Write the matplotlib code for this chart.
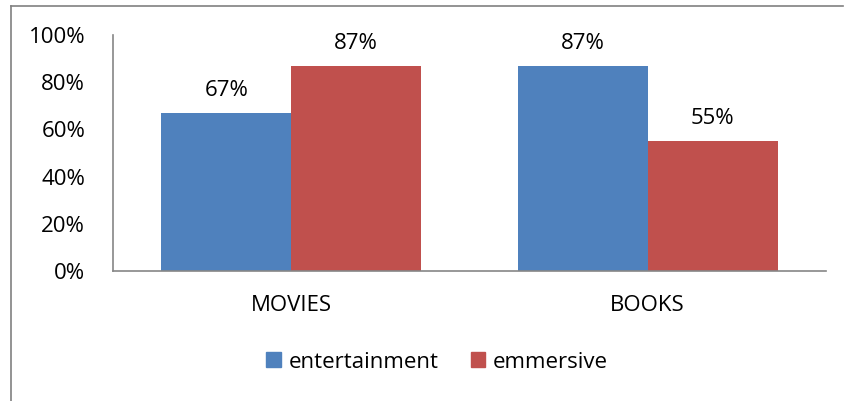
import matplotlib
matplotlib.use("Agg")
import matplotlib.pyplot as plt
import numpy as np
from matplotlib.lines import Line2D
from matplotlib.patches import Patch

categories = ["MOVIES", "BOOKS"]
series_names = ["entertainment", "emmersive"]
entertainment = [67, 87]
emmersive = [87, 55]
yticks = [0, 20, 40, 60, 80, 100]
ytick_labels = ["0%", "20%", "40%", "60%", "80%", "100%"]

colors = ["#4F81BD", "#C0504D"]
plt.rcParams['font.family'] = ['Open Sans', 'DejaVu Sans']
FS = 16

W, H = 845, 401
fig = plt.figure(figsize=(W / 100, H / 100), dpi=100)

# axes: x 113..826, y 35..271 (pixels from top)
ax = fig.add_axes([113 / W, 1 - 271 / H, (826 - 113) / W, (271 - 35) / H])
x = np.arange(len(categories))
bw = 0.365
ax.bar(x - bw / 2, entertainment, bw, color=colors[0], label=series_names[0])
ax.bar(x + bw / 2, emmersive, bw, color=colors[1], label=series_names[1])
for xi, v in zip(x - bw / 2, entertainment):
    ax.text(xi, v + 5, f"{v}%", ha="center", va="bottom", fontsize=FS)
for xi, v in zip(x + bw / 2, emmersive):
    ax.text(xi, v + 5, f"{v}%", ha="center", va="bottom", fontsize=FS)

ax.set_xlim(-0.5, len(categories) - 0.5)
ax.set_ylim(0, 100)
ax.set_yticks(yticks)
ax.set_yticklabels(ytick_labels, fontsize=FS)
ax.set_xticks(x)
ax.set_xticklabels(categories, fontsize=FS)
ax.tick_params(axis='both', length=0)
ax.tick_params(axis='y', pad=20)
ax.tick_params(axis='x', pad=17)
for s in ["top", "right"]:
    ax.spines[s].set_visible(False)
for s in ["left", "bottom"]:
    ax.spines[s].set_color("#868686")
    ax.spines[s].set_linewidth(1.2)

handles = [Patch(color=colors[0]), Patch(color=colors[1])]
fig.legend(handles, series_names, loc="center", bbox_to_anchor=(437 / W, 1 - 362 / H),
           ncol=2, frameon=False, fontsize=FS, handlelength=0.65, handleheight=0.65,
           columnspacing=1.45, handletextpad=0.35)

# outer frame lines (cropped document border)
fig.add_artist(Line2D([11 / W, 11 / W], [0, 1 - 6 / H], color="#808080", lw=1.2))
fig.add_artist(Line2D([11 / W, 843 / W], [1 - 6 / H, 1 - 6 / H], color="#808080", lw=1.2))

fig.savefig("out.png", dpi=100)
